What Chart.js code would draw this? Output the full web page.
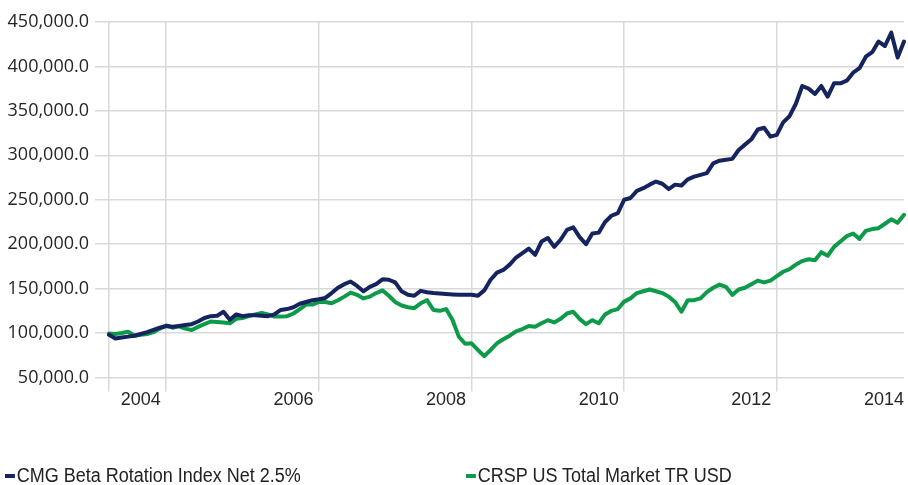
<!DOCTYPE html>
<html>
<head>
<meta charset="utf-8">
<script src="https://cdn.jsdelivr.net/npm/chart.js@4.4.1/dist/chart.umd.min.js"></script>
<style>
  html, body { margin: 0; padding: 0; background: #fff; overflow: hidden; }
  #wrap { position: relative; width: 908px; height: 485px; }
  #chart { position: absolute; left: 0; top: 0; }
  .leg { position: absolute; top: 463px; font: 20px "Liberation Sans Narrow", "Liberation Sans", sans-serif;
         color: #222; white-space: nowrap; line-height: 24px; transform: scaleX(0.9); transform-origin: 0 50%; }
  .leg i { display: inline-block; width: 11px; height: 4px; vertical-align: middle; margin: 0 2px 2px 0; }
</style>
</head>
<body>
<div id="wrap">
  <canvas id="chart" width="908" height="485"></canvas>
  <div id="legend"></div>
</div>
<script>
// monthly data, Aug 2003 .. Jan 2014
const startYear = 2003, startMonth = 8, monthCount = 126;
const months = [];
for (let k = 0; k < monthCount; k++) {
    const m = startMonth - 1 + k;
    const y = startYear + Math.floor(m / 12);
    months.push(y + '-' + String(m % 12 + 1).padStart(2, '0'));
}

const seriesNames = ['CMG Beta Rotation Index Net 2.5%', 'CRSP US Total Market TR USD'];
const seriesColors = ['#15235f', '#0d9a49'];

const cmgValues = [
    98000, 94000, 95000, 96000, 97000, 99000, 101000, 103500, 106000, 108000,
    107000, 108000, 109000, 110000, 113000, 117000, 119000, 119500, 124000, 115000,
    121000, 119000, 120000, 120000, 119500, 119000, 121000, 126000, 127000, 129000,
    133000, 135000, 137000, 138000, 139500, 145000, 151000, 155000, 158000, 153000,
    147000, 152000, 155000, 160500, 160000, 157000, 147000, 143000, 142000, 147500,
    146000, 145000, 144500, 144000, 143500, 143000, 143000, 143000, 142000, 148000,
    160000, 168000, 171000, 177000, 185000, 190000, 195000, 188000, 203000, 207000,
    197000, 205000, 216000, 219000, 208000, 200000, 212000, 213000, 225000, 232000,
    235000, 250000, 252000, 260000, 263000, 267000, 270500, 268000, 262000, 267000,
    266000, 273000, 276000, 278000, 280000, 291000, 294000, 295000, 296000, 306000,
    312000, 318000, 329000, 331000, 321000, 323000, 337000, 344000, 358000, 378000,
    375000, 369000, 378000, 366000, 381000, 381000, 384000, 393000, 398000, 411000,
    416000, 428000, 423000, 438000, 410000, 428000
];

const crspValues = [
    99500, 99000, 100000, 101500, 97000, 98000, 99000, 101000, 105000, 108500,
    106000, 107500, 105000, 103500, 107000, 110000, 113000, 112500, 112000, 111000,
    116000, 117000, 119000, 121000, 122500, 121000, 118500, 118500, 119000, 122000,
    127000, 132000, 132000, 135000, 135000, 133500, 137000, 141000, 145500, 143000,
    139000, 141000, 145000, 148000, 142000, 135000, 131000, 129000, 128000, 133500,
    137000, 126000, 125000, 127000, 115000, 96000, 88000, 88500, 81000, 74000,
    81000, 88500, 93000, 97000, 102000, 104500, 108000, 107000, 111000, 114500,
    112000, 116000, 122000, 124000, 116000, 110000, 114500, 111000, 121000, 125000,
    127000, 135400, 139000, 145000, 147000, 149000, 147000, 145000, 141000, 135000,
    124000, 137000, 137000, 139000, 146000, 151000, 154500, 152000, 143000, 149000,
    151000, 155000, 159000, 157000, 159000, 164000, 169000, 172000, 177000, 181000,
    183000, 182000, 191000, 187000, 197000, 203000, 209000, 212000, 206000, 215000,
    217000, 218000, 223000, 228000, 224000, 233000
];

const tickYears = ['2004', '2006', '2008', '2010', '2012', '2014'];
const gridMonths = ['2003-08', '2004-05', '2006-05', '2008-05', '2010-05', '2012-05'];

const gridColor = '#d9d9d9';
const textColor = '#262626';
const narrowFont = '"Liberation Sans Narrow", "Liberation Sans", sans-serif';

const chart = new Chart(document.getElementById('chart'), {
    type: 'line',
    data: {
        labels: months,
        datasets: [cmgValues, crspValues].map((vals, k) => ({
            label: seriesNames[k],
            data: vals,
            borderColor: seriesColors[k],
            backgroundColor: seriesColors[k],
            borderWidth: 4,
            borderJoinStyle: 'round',
            borderCapStyle: 'round',
            pointRadius: 0,
            tension: 0,
            fill: false
        }))
    },
    options: {
        responsive: false,
        animation: false,
        layout: { padding: { top: 22, right: 4, bottom: 67.5, left: 0 } },
        plugins: { legend: { display: false }, tooltip: { enabled: false } },
        scales: {
            x: {
                type: 'category',
                offset: false,
                border: { display: false },
                grid: {
                    color: c => gridMonths.includes(months[c.index]) ? gridColor : 'rgba(0,0,0,0)',
                    lineWidth: 1.5,
                    tickLength: 14
                },
                ticks: {
                    autoSkip: false,
                    maxRotation: 0,
                    minRotation: 0,
                    align: 'inner',
                    padding: 0,
                    color: textColor,
                    font: { family: narrowFont, size: 18, lineHeight: 1 },
                    callback: (v, i) => {
                        const m = months[i];
                        const yr = m.slice(0, 4);
                        return (m.endsWith('-01') && tickYears.includes(yr)) ? yr : '';
                    }
                },
                afterFit: s => { s.height = 40; }
            },
            y: {
                min: 50000,
                max: 450000,
                border: { display: false },
                grid: { color: gridColor, lineWidth: 1.5, tickLength: 14 },
                ticks: {
                    stepSize: 50000,
                    padding: 6,
                    color: textColor,
                    font: { family: '"Open Sans", sans-serif', size: 18 },
                    callback: v => v.toLocaleString('en-US', { minimumFractionDigits: 1, maximumFractionDigits: 1 })
                },
                afterFit: s => { s.width = 109; }
            }
        }
    }
});

// legend as html text
const legendLeft = [5, 466];
const legend = document.getElementById('legend');
seriesNames.forEach((name, k) => {
    const d = document.createElement('div');
    d.className = 'leg';
    d.style.left = legendLeft[k] + 'px';
    d.innerHTML = '<i style="background:' + seriesColors[k] + '"></i>' + name;
    legend.appendChild(d);
});
</script>
</body>
</html>
